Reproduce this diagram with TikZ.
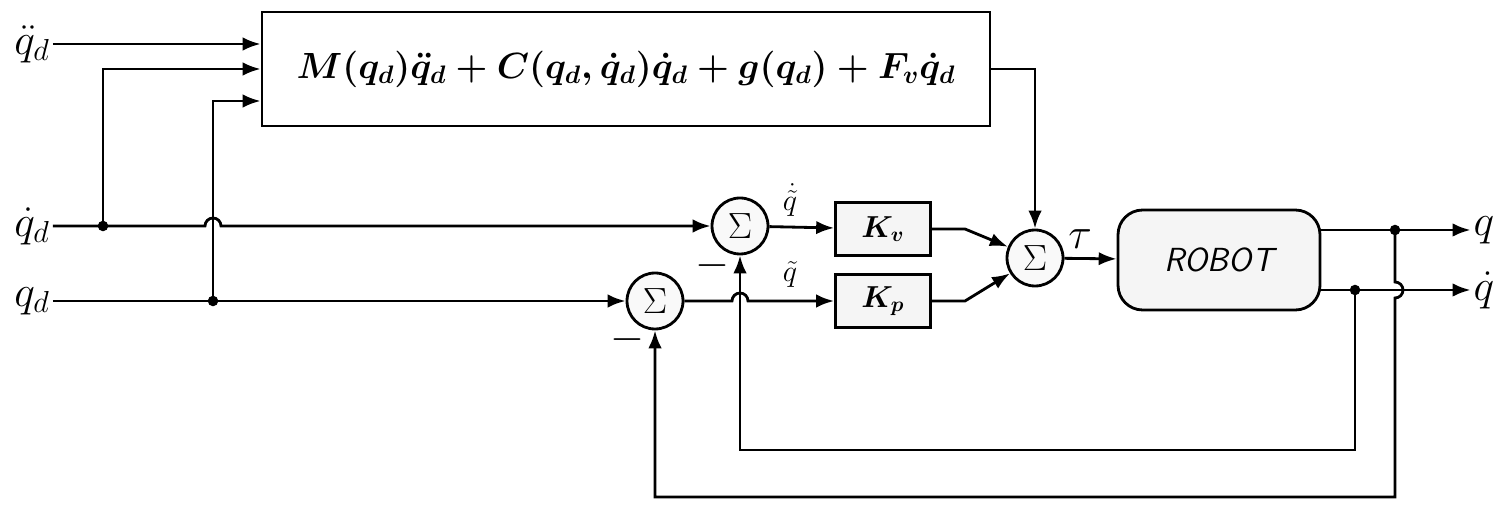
\documentclass[tikz,border=0pt]{standalone}
\usepackage{amsmath}
\usetikzlibrary{arrows.meta,calc}
\begin{document}
\begin{tikzpicture}[x=0.02cm,y=-0.02cm,>=Latex,line width=1.6pt,
    sum/.style={circle,draw,minimum size=1.12cm,inner sep=0pt,font=\fontsize{22}{24}\selectfont,fill=gray!5},
    gain/.style={draw,minimum width=1.9cm,minimum height=1.06cm,fill=gray!8,font=\fontsize{17}{19}\selectfont},
    dot/.style={circle,fill,inner sep=0pt,minimum size=6pt},
    lbl/.style={font=\fontsize{26}{28}\selectfont,inner sep=1pt}]
    \useasboundingbox (0,0) rectangle (1500,506);
    % Blocks
    \node[draw,minimum width=14.56cm,minimum height=2.28cm,inner sep=2pt,font=\fontsize{21}{24}\selectfont] (dyn) at (626,69)
        {$\boldsymbol{M(q_d)\ddot q_d+C(q_d,\dot q_d)\dot q_d+g(q_d)+F_v\dot q_d}$};
    \node[sum] (s1) at (740,226) {$\Sigma$};
    \node[sum] (s2) at (655,301) {$\Sigma$};
    \node[sum] (s3) at (1035,258) {$\Sigma$};
    \node[gain] (kv) at (883,229) {$\boldsymbol{K_v}$};
    \node[gain] (kp) at (883,301) {$\boldsymbol{K_p}$};
    \node[draw,rounded corners=14pt,minimum width=4.04cm,minimum height=2cm,fill=gray!8,
        font=\sffamily\itshape\fontsize{19}{22}\selectfont] (robot) at (1219,260) {ROBOT};
    % Inputs and outputs
    \node[lbl] (qddin) at (32,44) {$\ddot q_d$};
    \node[lbl] (qdin) at (32,226) {$\dot q_d$};
    \node[lbl] (qin) at (32,301) {$q_d$};
    \node[lbl] (qout) at (1484,230) {$q$};
    \node[lbl] (qdout) at (1484,290) {$\dot q$};
    \node[dot] (j1) at (103,226) {};
    \node[dot] (j2) at (213,301) {};
    \node[dot] (j3) at (1355,290) {};
    \node[dot] (j4) at (1395,230) {};
    \coordinate (in1) at (dyn.west |- qddin);
    \coordinate (in3) at (dyn.west |- 0,101);
    % Connections
    \draw[->] (qddin) -- (in1);
    \draw[->] (j1.center) |- (dyn.west);
    \draw[->] (j2.center) |- (in3);
    \draw[->] (qdin) -- (j1.center) -- (205,226) arc[start angle=180,end angle=0,radius=0.16cm] -- (s1);
    \draw[->] (qin) -- (s2);
    \draw[->] (s1) -- (kv);
    \draw[->] (s2) -- (732,301) arc[start angle=180,end angle=0,radius=0.16cm] -- (kp);
    \draw[->] (kv.east) -- (965,229) -- (s3);
    \draw[->] (kp.east) -- (965,301) -- (s3);
    \draw[->] (dyn.east) -| (s3.north);
    \draw[->] (s3) -- node[lbl,above=4pt,pos=0.3,font=\fontsize{30}{32}\selectfont] {$\tau$} (robot);
    \draw[->] (robot.east |- j4) -- (j4.center) -- (qout);
    \draw[->] (robot.east |- j3) -- (qdout);
    \draw[->] (j3.center) -- (1355,450) -| (s1.south);
    \draw[->] (j4.center) -- (1395,282) arc[start angle=90,end angle=-90,radius=0.16cm] -- (1395,497) -| (s2.south);
    % Labels
    \node[lbl,font=\fontsize{18}{20}\selectfont] (eqd) at (790,200) {$\dot{\tilde q}$};
    \node[lbl,font=\fontsize{18}{20}\selectfont] (eq) at (790,274) {$\tilde q$};
    \node[lbl] (m1) at (712,266) {$-$};
    \node[lbl] (m2) at (627,340) {$-$};
\end{tikzpicture}
\end{document}
